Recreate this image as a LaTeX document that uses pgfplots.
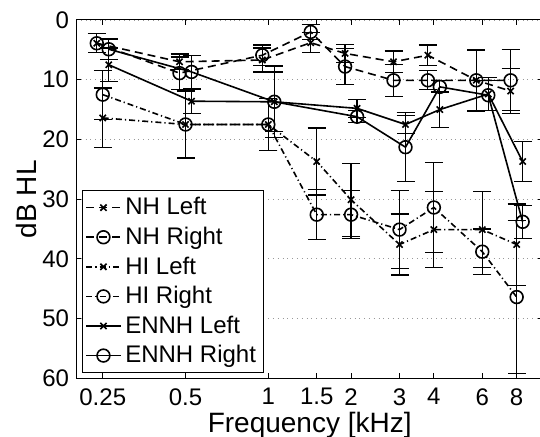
\documentclass[border=0pt]{standalone}
\usepackage{fontspec}
\setmainfont{Liberation Sans}
\usepackage{pgfplots}
\pgfplotsset{compat=1.18}

\begin{document}
\begin{tikzpicture}
\begin{axis}[
  scale only axis, width=233.6pt, height=179.15pt,
  xmode=log, log basis x=2, xmin=0.2, xmax=10,
  ymin=0, ymax=60, y dir=reverse,
  xtick={0.25,0.5,1,1.5,2,3,4,6,8},
  xticklabels={0.25,0.5,1,1.5,2,3,4,6,8},
  ytick={0,10,...,60},
  ymajorgrids, grid style={dotted, gray!80, line width=0.6pt},
  tick align=inside, major tick length=2.5pt,
  tick style={black, line width=0.5pt},
  axis line style={line width=0.5pt},
  /pgf/number format/assume math mode=true,
  tick label style={font=\fontsize{12}{14}\selectfont},
  xticklabel style={yshift=-1.5pt},
  label style={font=\fontsize{14}{16}\selectfont},
  xlabel={Frequency [kHz]}, ylabel={dB HL},
  xlabel style={at={(axis description cs:0.5,0)}, anchor=north, yshift=-13.5pt},
  ylabel style={at={(axis description cs:0,0.5)}, anchor=center, yshift=25pt},
  every axis plot/.append style={black, line width=0.8pt},
  error bars/y dir=both, error bars/y explicit,
  error bars/error mark options={rotate=90, black, mark size=4.5pt, line width=0.6pt},
  error bars/error bar style={solid, line width=0.6pt},
  legend style={at={(axis description cs:0.0128,0.014)}, anchor=south west,
    font=\fontsize{12}{14}\selectfont, draw=black, line width=0.5pt,
    inner sep=1.5pt, row sep=0.6pt},
  legend cell align=left,
]
% NH Left
\addplot[dash pattern=on 4pt off 2.5pt, mark=x, mark size=2.2pt, mark options={solid}]
  coordinates {
  (0.2378,3.9) +- (0,1.6)
  (0.4755,7.0) +- (0,1.3)
  (0.951,6.7) +- (0,2.0)
  (1.4265,3.8) +- (0,1.7)
  (1.902,5.6) +- (0,1.5)
  (2.853,7.0) +- (0,1.8)
  (3.804,5.9) +- (0,1.7)
  (5.706,10.1) +- (0,5.0)
  (7.608,11.9) +- (0,3.8)
};
\addlegendentry{NH Left}
% NH Right
\addplot[dash pattern=on 4pt off 2.5pt, mark=o, mark size=3.2pt, mark options={solid}]
  coordinates {
  (0.2378,3.9) +- (0,1.6)
  (0.4755,8.9) +- (0,2.7)
  (0.951,5.9) +- (0,1.7)
  (1.4265,2.0) +- (0,1.2)
  (1.902,7.8) +- (0,3.0)
  (2.853,10.1) +- (0,2.7)
  (3.804,10.1) +- (0,1.6)
  (5.706,10.1) +- (0,5.2)
  (7.608,10.1) +- (0,5.1)
};
\addlegendentry{NH Right}
% HI Left
\addplot[dash pattern=on 3pt off 1.5pt on 0.6pt off 1.5pt, mark=x, mark size=2.2pt, mark options={solid}]
  coordinates {
  (0.25,16.4) +- (0,5.0)
  (0.5,17.5) +- (0,5.6)
  (1,17.5) +- (0,4.3)
  (1.5,23.7) +- (0,5.6)
  (2,30.1) +- (0,6.1)
  (3,37.6) +- (0,5.1)
  (4,35.1) +- (0,6.4)
  (6,35.1) +- (0,6.4)
  (8,37.6) +- (0,6.8)
};
\addlegendentry{HI Left}
% HI Right
\addplot[dash pattern=on 3pt off 1.5pt on 0.6pt off 1.5pt, mark=o, mark size=3.2pt, mark options={solid}]
  coordinates {
  (0.25,12.5) +- (0,4.1)
  (0.5,17.5) +- (0,5.6)
  (1,17.5) +- (0,4.3)
  (1.5,32.6) +- (0,4.2)
  (2,32.6) +- (0,4.0)
  (3,35.1) +- (0,6.5)
  (4,31.4) +- (0,7.5)
  (6,38.8) +- (0,3.8)
  (8,46.4) +- (0,12.8)
};
\addlegendentry{HI Right}
% ENNH Left
\addplot[solid, mark=x, mark size=2.2pt]
  coordinates {
  (0.2629,7.5) +- (0,2.8)
  (0.5258,13.6) +- (0,2.0)
  (1.0515,13.7) +- (0,5.0)
  (2.103,14.8) +- (0,1.5)
  (3.1545,17.5) +- (0,1.5)
  (4.206,15.0) +- (0,3.0)
  (6.309,12.4) +- (0,2.8)
  (8.412,23.7) +- (0,3.4)
};
\addlegendentry{ENNH Left}
% ENNH Right
\addplot[solid, mark=o, mark size=3.2pt]
  coordinates {
  (0.2629,4.9) +- (0,1.7)
  (0.5258,8.7) +- (0,2.8)
  (1.0515,13.7) +- (0,6.0)
  (2.103,16.2) +- (0,1.0)
  (3.1545,21.3) +- (0,5.8)
  (4.206,11.2) +- (0,1.0)
  (6.309,12.6) +- (0,2.5)
  (8.412,33.8) +- (0,2.8)
};
\addlegendentry{ENNH Right}
\end{axis}
\pgfresetboundingbox
\path ([shift={(-38.05pt,-29.35pt)}]current axis.south west)
  rectangle ([shift={(-1.65pt,10pt)}]current axis.north east);
\end{tikzpicture}
\end{document}
